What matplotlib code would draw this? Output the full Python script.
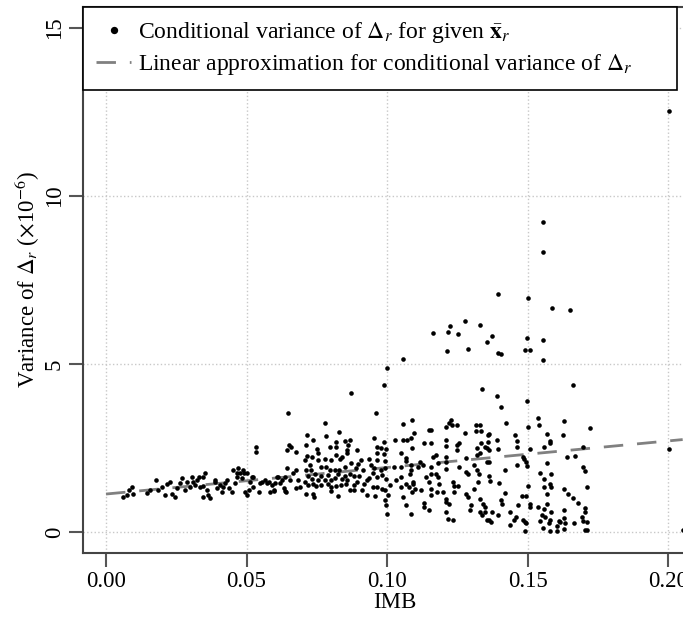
import numpy as np
import matplotlib.pyplot as plt

plt.rcParams['font.family'] = ['Liberation Serif', 'DejaVu Serif']
plt.rcParams['mathtext.fontset'] = 'stix'

# conditional variance points (IMB, variance x1e-6)
imb_low = [0.0062, 0.0074, 0.0083, 0.0091, 0.0095, 0.0145, 0.0157, 0.0178, 0.0186, 0.0198,
           0.0210, 0.0218, 0.0228, 0.0234, 0.0246, 0.0254, 0.0263, 0.0269, 0.0281, 0.0287,
           0.0299, 0.0305, 0.0310, 0.0316, 0.0322, 0.0332, 0.0336]
var_low = [1.03, 1.10, 1.25, 1.35, 1.12, 1.15, 1.25, 1.55, 1.25, 1.35,
           1.10, 1.42, 1.50, 1.12, 1.05, 1.30, 1.45, 1.60, 1.25, 1.50,
           1.35, 1.65, 1.50, 1.40, 1.55, 1.65, 1.35]

imb_a = [0.0346, 0.0352, 0.0344, 0.0358, 0.0364, 0.0370, 0.0388, 0.0394, 0.0406, 0.0412,
         0.0424, 0.0436, 0.0448, 0.0453, 0.0459, 0.0465, 0.0471, 0.0477, 0.0483, 0.0489,
         0.0495, 0.0501, 0.0501, 0.0507, 0.0513, 0.0524, 0.0524, 0.0534, 0.0534, 0.0543,
         0.0555, 0.0567, 0.0579, 0.0584, 0.0590, 0.0596, 0.0608, 0.0620, 0.0626, 0.0632,
         0.0638, 0.0641, 0.0643, 0.0645, 0.0649, 0.0651, 0.0653, 0.0659, 0.0665, 0.0677,
         0.0677, 0.0683, 0.0689, 0.0346, 0.0389, 0.0416, 0.0430, 0.0466, 0.0490, 0.0519,
         0.0549, 0.0573, 0.0603, 0.0598, 0.0613, 0.0637, 0.0676]
var_a = [1.65, 1.75, 1.38, 1.25, 1.10, 1.00, 1.50, 1.30, 1.40, 1.20,
         1.45, 1.30, 1.20, 1.85, 1.45, 1.65, 1.90, 1.75, 1.60, 1.85,
         1.20, 1.10, 1.75, 1.25, 1.50, 1.65, 1.35, 2.54, 2.39, 1.20,
         1.50, 1.55, 1.50, 1.20, 1.40, 1.25, 1.65, 1.45, 1.55, 1.30,
         1.65, 1.20, 1.90, 2.44, 3.53, 2.59, 1.55, 2.54, 1.75, 2.39,
         1.85, 1.55, 1.35, 1.05, 1.55, 1.35, 1.55, 1.75, 1.75, 1.65,
         1.45, 1.45, 1.45, 1.23, 1.65, 1.23, 1.32]

imb_b = [0.0871, 0.0989, 0.0961, 0.0778, 0.0716, 0.0737, 0.0783, 0.0828, 0.0711, 0.0752,
         0.0755, 0.0714, 0.0708, 0.0726, 0.0797, 0.0820, 0.0820, 0.0850, 0.0862, 0.0867,
         0.0859, 0.0856, 0.0838, 0.0892, 0.0906, 0.0936, 0.0954, 0.0966, 0.0978, 0.0988,
         0.0996, 0.0966, 0.0988, 0.1029, 0.0966, 0.0993, 0.0942, 0.0954, 0.0978, 0.0993,
         0.1026, 0.0734, 0.0755, 0.0778, 0.0802, 0.0820, 0.0832, 0.0766, 0.0781, 0.0797,
         0.0814, 0.0830, 0.0850, 0.0873, 0.0888, 0.0897, 0.0913, 0.0883, 0.0901, 0.0935,
         0.0949, 0.0965, 0.0981, 0.0996, 0.0712, 0.0729, 0.0720, 0.0734, 0.0745, 0.0755,
         0.0766, 0.0778, 0.0789, 0.0802, 0.0814, 0.0825, 0.0838, 0.0849, 0.0857, 0.0867,
         0.0709, 0.0717, 0.0736, 0.0747, 0.0765, 0.0789, 0.0801, 0.0818, 0.0835, 0.0853,
         0.0883, 0.0894, 0.0918, 0.0930, 0.0950, 0.0965, 0.0982, 0.0994, 0.1012, 0.1032,
         0.0712, 0.0738, 0.0740, 0.0802, 0.0825, 0.0867, 0.0883, 0.0912, 0.0930, 0.0956,
         0.0994, 0.0997, 0.1001, 0.1003, 0.1001]
var_b = [4.15, 4.38, 3.55, 3.23, 2.89, 2.74, 2.86, 2.97, 2.59, 2.46,
         2.34, 2.26, 2.14, 1.99, 2.54, 2.69, 2.54, 2.71, 2.59, 2.74,
         2.44, 2.36, 2.22, 2.44, 2.14, 2.16, 2.79, 2.54, 2.49, 2.69,
         2.46, 2.34, 2.32, 2.74, 2.14, 2.12, 1.99, 1.89, 1.86, 1.89,
         1.94, 2.24, 2.14, 2.16, 2.14, 2.29, 2.16, 1.94, 1.94, 1.84,
         1.84, 1.86, 1.94, 2.04, 1.89, 2.02, 1.84, 1.66, 1.66, 1.62,
         1.76, 1.64, 1.71, 1.59, 1.84, 1.84, 1.66, 1.59, 1.74, 1.54,
         1.66, 1.54, 1.69, 1.54, 1.62, 1.74, 1.59, 1.66, 1.54, 1.74,
         1.49, 1.39, 1.44, 1.36, 1.39, 1.44, 1.33, 1.36, 1.39, 1.42,
         1.39, 1.49, 1.44, 1.54, 1.33, 1.35, 1.27, 1.25, 1.39, 1.54,
         1.14, 1.14, 1.04, 1.23, 1.07, 1.26, 1.25, 1.26, 1.09, 1.07,
         0.95, 0.80, 0.55, 1.09, 4.87]

imb_c = [0.1056, 0.1162, 0.1218, 0.1254, 0.1212, 0.1289, 0.1357, 0.1372, 0.1396, 0.1337,
         0.1393, 0.1278, 0.1224, 0.1056, 0.1088, 0.1096, 0.1056, 0.1070, 0.1085, 0.1088,
         0.1050, 0.1067, 0.1067, 0.1050, 0.1085, 0.1085, 0.1082, 0.1050, 0.1067, 0.1050,
         0.1078, 0.1094, 0.1091, 0.1100, 0.1089, 0.1056, 0.1067, 0.1085, 0.1109, 0.1118,
         0.1127, 0.1121, 0.1133, 0.1151, 0.1156, 0.1156, 0.1133, 0.1133, 0.1151, 0.1139,
         0.1151, 0.1156, 0.1156, 0.1162, 0.1156, 0.1156, 0.1174, 0.1180, 0.1174, 0.1180,
         0.1178, 0.1186, 0.1210, 0.1219, 0.1226, 0.1232, 0.1249, 0.1210, 0.1210, 0.1210,
         0.1210, 0.1210, 0.1198, 0.1210, 0.1210, 0.1210, 0.1216, 0.1234, 0.1222, 0.1234,
         0.1240, 0.1252, 0.1240, 0.1248, 0.1257, 0.1248, 0.1257, 0.1276, 0.1280, 0.1282,
         0.1289, 0.1282, 0.1289, 0.1295, 0.1300, 0.1316, 0.1330, 0.1316, 0.1336, 0.1319,
         0.1336, 0.1321, 0.1330, 0.1309, 0.1321, 0.1327, 0.1324, 0.1309, 0.1330, 0.1342,
         0.1332, 0.1339, 0.1347, 0.1358, 0.1364, 0.1358, 0.1347, 0.1355, 0.1362, 0.1355,
         0.1364, 0.1364, 0.1366, 0.1350, 0.1355, 0.1362, 0.1370, 0.1373, 0.1398, 0.1392,
         0.1396, 0.1396, 0.1405, 0.1410]
var_c = [5.15, 5.93, 5.96, 5.89, 5.39, 5.45, 5.66, 5.83, 5.34, 4.26,
         4.05, 6.29, 6.14, 3.21, 3.33, 2.96, 2.74, 2.74, 2.79, 2.49,
         2.34, 2.19, 2.12, 1.94, 1.99, 1.84, 1.74, 1.64, 1.42, 1.34,
         1.34, 1.49, 1.42, 1.29, 1.19, 1.04, 0.79, 0.55, 1.94, 2.09,
         1.99, 1.24, 2.64, 3.05, 3.03, 2.66, 0.86, 0.75, 0.65, 1.64,
         1.49, 1.29, 1.09, 2.24, 1.92, 1.74, 2.29, 2.04, 1.74, 1.64,
         1.19, 1.44, 3.13, 3.23, 3.33, 3.18, 3.18, 2.74, 2.56, 2.24,
         2.09, 1.87, 1.19, 0.99, 0.89, 0.60, 0.40, 0.35, 0.84, 1.49,
         1.36, 1.36, 1.19, 2.59, 2.64, 2.44, 1.92, 2.94, 2.19, 1.79,
         1.74, 1.14, 1.04, 0.65, 0.79, 3.18, 3.18, 3.01, 3.01, 2.49,
         2.64, 2.29, 2.34, 1.99, 1.84, 1.74, 1.49, 1.29, 0.99, 0.84,
         0.60, 0.50, 0.74, 2.88, 2.91, 2.69, 2.54, 2.49, 2.44, 2.09,
         2.09, 1.66, 1.52, 0.60, 0.35, 0.35, 0.30, 0.60, 1.46, 2.74,
         2.47, 0.50, 0.94, 0.84]

imb_d = [0.1499, 0.1491, 0.1508, 0.1554, 0.1554, 0.1663, 0.1497, 0.1406, 0.1406, 0.1423,
         0.1502, 0.1538, 0.1541, 0.1631, 0.1722, 0.1456, 0.1462, 0.1462, 0.1568, 0.1579,
         0.1579, 0.1625, 0.1557, 0.1508, 0.1699, 0.1484, 0.1489, 0.1493, 0.1462, 0.1497,
         0.1418, 0.1568, 0.1639, 0.1669, 0.1699, 0.1705, 0.1545, 0.1585, 0.1557, 0.1557,
         0.1580, 0.1585, 0.1568, 0.1503, 0.1418, 0.1479, 0.1493, 0.1510, 0.1508, 0.1466,
         0.1436, 0.1460, 0.1451, 0.1436, 0.1484, 0.1490, 0.1496, 0.1490, 0.1538, 0.1557,
         0.1585, 0.1551, 0.1563, 0.1580, 0.1578, 0.1543, 0.1555, 0.1580, 0.1604, 0.1604,
         0.1568, 0.1628, 0.1645, 0.1660, 0.1680, 0.1705, 0.1712, 0.1705, 0.1693, 0.1699,
         0.1711, 0.1664, 0.1628, 0.1631, 0.1617, 0.1612, 0.1634, 0.1628, 0.1705, 0.1713]
var_d = [5.76, 5.42, 5.42, 5.71, 5.12, 4.38, 3.90, 5.30, 3.71, 3.23,
         3.13, 3.38, 3.18, 3.30, 3.10, 2.89, 2.71, 2.52, 2.92, 2.71,
         2.64, 2.89, 2.52, 2.46, 2.52, 2.24, 2.16, 2.09, 1.99, 1.96,
         1.84, 2.06, 2.22, 2.26, 1.92, 1.82, 1.76, 1.72, 1.59, 1.34,
         1.44, 1.34, 1.12, 1.36, 1.16, 1.07, 1.07, 0.84, 0.74, 0.79,
         0.60, 0.44, 0.36, 0.21, 0.36, 0.31, 0.26, 0.04, 0.74, 0.69,
         0.60, 0.50, 0.45, 0.36, 0.27, 0.34, 0.13, 0.04, 0.04, 0.19,
         0.84, 1.27, 1.12, 1.02, 0.86, 0.72, 1.34, 0.60, 0.45, 0.33,
         0.30, 0.27, 0.65, 0.41, 0.31, 0.34, 0.27, 0.09, 0.05, 0.05]

imb_out = [0.2005, 0.1554, 0.1554, 0.1586, 0.1651, 0.1396, 0.1503, 0.1329, 0.2005, 0.2052]
var_out = [12.53, 9.23, 8.32, 6.66, 6.61, 7.08, 6.97, 6.15, 2.48, 0.06]

# linear approximation
lin_intercept = 1.13
lin_slope = 7.9

imb = np.concatenate([imb_low, imb_a, imb_b, imb_c, imb_d, imb_out])
var = np.concatenate([var_low, var_a, var_b, var_c, var_d, var_out])

fig = plt.figure(figsize=(6.83, 6.22), dpi=100)
ax = fig.add_axes([83/683, 69/622, 623/683, 546/622])

ax.plot(imb, var, 'o', color='black', ms=3.3, mec='none', zorder=3,
        label=r'Conditional variance of $\Delta_r$ for given $\bar{\mathbf{x}}_r$')
xl = np.array([0.0, 0.2052])
ax.plot(xl, lin_intercept + lin_slope * xl, color='#808080', lw=2, ls=(0, (7, 5)), zorder=2,
        label=r'Linear approximation for conditional variance of $\Delta_r$')

ax.set_xlim(-0.0082, 0.2135)
ax.set_ylim(-0.625, 15.625)
ax.set_xticks([0, 0.05, 0.10, 0.15, 0.20])
ax.set_xticklabels(['0.00', '0.05', '0.10', '0.15', '0.20'])
ax.set_yticks([0, 5, 10, 15])
ax.set_yticklabels(['0', '5', '10', '15'], rotation=90, va='center')
ax.grid(True, ls=':', color='#c8c8c8', lw=1)
ax.set_axisbelow(True)

for s in ax.spines.values():
    s.set_color('#444444')
    s.set_linewidth(1.5)
ax.tick_params(direction='out', length=10, width=1.5, color='#555555', labelsize=16.5, pad=3)

ax.set_xlabel('IMB', fontsize=16.5)
ax.xaxis.set_label_coords(0.5, -0.072)
ax.set_ylabel(r'Variance of $\Delta_r$ ($\times$10$^{-6}$)', fontsize=16.5)
ax.yaxis.set_label_coords(-0.066, 0.5)

leg = ax.legend(loc='upper left', bbox_to_anchor=(0, 1, 594/623, 0), mode='expand',
                borderaxespad=0, fancybox=False, edgecolor='black', framealpha=1,
                fontsize=17, handlelength=1.5, handletextpad=0.3, borderpad=0.55,
                labelspacing=0.3, markerscale=1.6)
leg.get_frame().set_linewidth(1.2)

fig.savefig('out.png', dpi=100)
